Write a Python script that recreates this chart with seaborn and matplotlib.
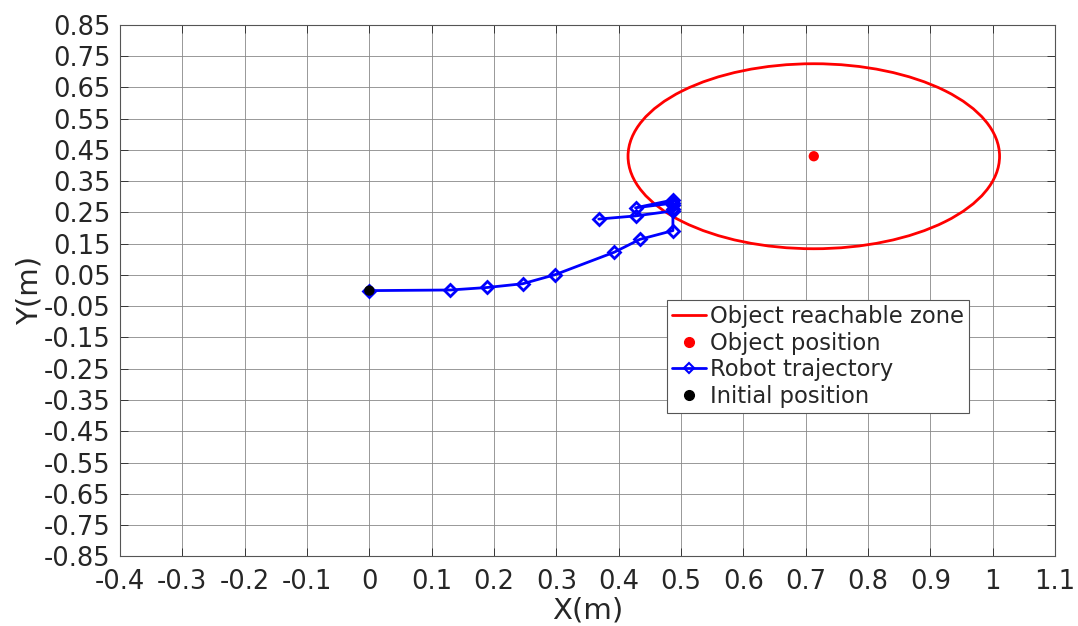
import numpy as np
import pandas as pd
import matplotlib
matplotlib.use("Agg")
import matplotlib.pyplot as plt
from matplotlib.patches import Ellipse
from matplotlib.lines import Line2D
import seaborn as sns

# Data
traj_x = [0.0, 0.13, 0.189, 0.246, 0.298, 0.393, 0.434, 0.487, 0.487, 0.487, 0.487, 0.427, 0.487, 0.487, 0.427, 0.368]
traj_y = [0.0, 0.002, 0.010, 0.022, 0.051, 0.123, 0.164, 0.192, 0.262, 0.275, 0.290, 0.265, 0.280, 0.255, 0.239, 0.229]
object_x = [0.713]
object_y = [0.430]
zone_radius_x = 0.298
zone_radius_y = 0.296
init_x = [0.0]
init_y = [0.0]
xtick_labels = ["-0.4", "-0.3", "-0.2", "-0.1", "0", "0.1", "0.2", "0.3", "0.4", "0.5",
                "0.6", "0.7", "0.8", "0.9", "1", "1.1"]
ytick_labels = ["-0.85", "-0.75", "-0.65", "-0.55", "-0.45", "-0.35", "-0.25", "-0.15", "-0.05",
                "0.05", "0.15", "0.25", "0.35", "0.45", "0.55", "0.65", "0.75", "0.85"]

sns.set_theme(style="white")
plt.rcParams['font.family'] = ['DejaVu Sans']

fig = plt.figure(figsize=(10.78, 6.26), dpi=100)
ax = fig.add_axes([0.1113, 0.1114, 0.8674, 0.8487])

# Reachable zone
ax.add_patch(Ellipse((object_x[0], object_y[0]), 2 * zone_radius_x, 2 * zone_radius_y,
                     fill=False, edgecolor='#ff0000', lw=2, zorder=3))

traj = pd.DataFrame({"x": traj_x, "y": traj_y})
sns.lineplot(data=traj, x="x", y="y", sort=False, estimator=None, ax=ax,
             color='#0000ff', lw=2, marker='D', markersize=6.5,
             markerfacecolor='none', markeredgecolor='#0000ff', markeredgewidth=2.0, zorder=4)

sns.scatterplot(x=object_x, y=object_y, ax=ax, color='#ff0000', s=55, edgecolor='none', zorder=5)
sns.scatterplot(x=init_x, y=init_y, ax=ax, color='black', s=55, edgecolor='none', zorder=6)

ax.set_xlim(-0.4, 1.1)
ax.set_ylim(-0.85, 0.85)
ax.set_xticks([float(v) for v in xtick_labels])
ax.set_yticks([float(v) for v in ytick_labels])
ax.set_xticklabels(xtick_labels)
ax.set_yticklabels(ytick_labels)
ax.tick_params(axis='both', labelsize=18.5, colors='#262626', direction='in', length=6, width=0.6,
               top=True, right=True, bottom=True, left=True)
ax.tick_params(axis='x', pad=9)
ax.tick_params(axis='y', pad=7)
ax.grid(True, color='#888888', lw=0.6)
for s in ax.spines.values():
    s.set_color('#555555')
    s.set_linewidth(0.8)
ax.set_xlabel("X(m)", fontsize=21, color='#262626', labelpad=1)
ax.set_ylabel("Y(m)", fontsize=21, color='#262626', labelpad=0)

handles = [
    Line2D([], [], color='#ff0000', lw=2),
    Line2D([], [], color='#ff0000', marker='o', ls='none', markersize=7),
    Line2D([], [], color='#0000ff', lw=2, marker='D', markersize=5.5, markerfacecolor='none', markeredgewidth=1.5),
    Line2D([], [], color='black', marker='o', ls='none', markersize=7),
]
labels = ["Object reachable zone", "Object position", "Robot trajectory", "Initial position"]
leg = ax.legend(handles, labels, loc='upper left', bbox_to_anchor=(0.5855, 0.482),
                fontsize=16.3, frameon=True, fancybox=False, framealpha=1,
                edgecolor='#555555', handlelength=1.5, handletextpad=0.2,
                borderpad=0.2, labelspacing=0.17, borderaxespad=0)
leg.get_frame().set_linewidth(0.8)

fig.savefig("out.png", dpi=100)
